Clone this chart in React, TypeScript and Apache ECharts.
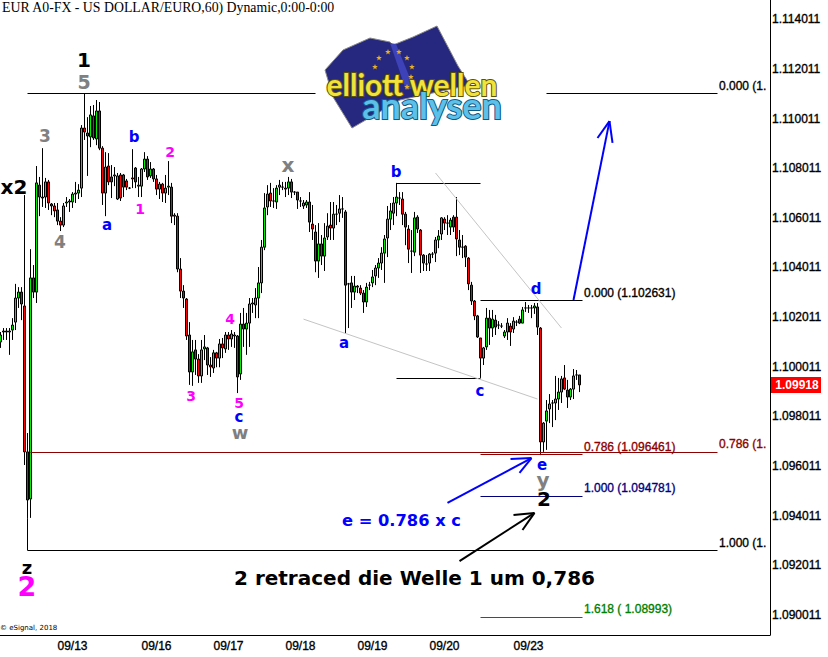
import React, { useEffect, useRef } from "react";
import * as echarts from "echarts";

// rows: [open, close, low, high]
const sep12 = [
  [1.10101,1.10129,1.10077,1.10141],[1.10145,1.10141,1.10109,1.10157],[1.10145,1.10141,1.10109,1.10157],[1.10141,1.10145,1.10049,1.10157],
  [1.10149,1.10169,1.10109,1.10197],[1.10181,1.10278,1.10149,1.10335],[1.10278,1.10302,1.10238,1.10322],[1.10302,1.10254,1.10189,1.10322],
  [1.10246,1.09658,1.09605,1.10693],[1.09658,1.09464,1.09388,1.09734],[1.09468,1.10359,1.09392,1.10475],[1.10359,1.10302,1.10278,1.10411],
  [1.10302,1.10742,1.10258,1.10810],[1.10733,1.10685,1.10608,1.10766],[1.10685,1.10681,1.10645,1.10882],[1.10685,1.10746,1.10641,1.10762],
  [1.10746,1.10661,1.10633,1.10754],[1.10657,1.10649,1.10612,1.10661],[1.10649,1.10629,1.10604,1.10661],[1.10633,1.10588,1.10572,1.10661],
  [1.10588,1.10572,1.10548,1.10604],[1.10572,1.10649,1.10564,1.10661],[1.10661,1.10665,1.10645,1.10685],[1.10665,1.10669,1.10625,1.10677],
];
const sep13 = [
  [1.10665,1.10697,1.10641,1.10705],[1.10697,1.10701,1.10661,1.10746],[1.10701,1.10713,1.10677,1.10737],[1.10721,1.10963,1.10685,1.10975],
  [1.10963,1.10947,1.10915,1.11104],[1.10943,1.10931,1.10770,1.11007],[1.10927,1.11016,1.10886,1.11052],[1.11012,1.10923,1.10915,1.11056],
  [1.10919,1.11032,1.10894,1.11076],[1.11032,1.10882,1.10874,1.11068],[1.10882,1.10701,1.10653,1.10890],[1.10701,1.10806,1.10608,1.10866],
  [1.10810,1.10746,1.10733,1.10862],[1.10766,1.10746,1.10681,1.10814],[1.10770,1.10774,1.10729,1.10806],[1.10677,1.10770,1.10673,1.10782],
  [1.10774,1.10681,1.10669,1.10782],[1.10774,1.10725,1.10685,1.10778],[1.10750,1.10725,1.10713,1.10758],[1.10721,1.10721,1.10717,1.10725],
  [1.10762,1.10758,1.10721,1.10878],[1.10802,1.10746,1.10721,1.10806],[1.10729,1.10733,1.10685,1.10766],[1.10729,1.10798,1.10685,1.10802],
  [1.10798,1.10838,1.10786,1.10866],[1.10838,1.10766,1.10754,1.10850],[1.10770,1.10798,1.10762,1.10826],[1.10798,1.10758,1.10746,1.10802],
];
const sep16 = [
  [1.10758,1.10717,1.10693,1.10774],[1.10717,1.10737,1.10677,1.10746],[1.10737,1.10701,1.10665,1.10742],[1.10701,1.10721,1.10661,1.10774],
  [1.10725,1.10729,1.10693,1.10830],[1.10725,1.10608,1.10580,1.10742],[1.10608,1.10612,1.10572,1.10620],[1.10608,1.10395,1.10382,1.10620],
  [1.10395,1.10306,1.10278,1.10439],[1.10306,1.10278,1.10238,1.10330],[1.10274,1.10125,1.10109,1.10278],[1.10129,1.09980,1.09928,1.10181],
  [1.09980,1.10061,1.09924,1.10109],[1.10069,1.10032,1.09968,1.10109],[1.10032,1.09964,1.09936,1.10052],[1.09964,1.10069,1.09936,1.10109],
  [1.10073,1.10081,1.10028,1.10129],[1.10077,1.10008,1.09968,1.10081],[1.10008,1.10000,1.09960,1.10040],[1.09996,1.10057,1.09976,1.10069],
  [1.10057,1.10036,1.09999,1.10061],[1.10036,1.10093,1.09999,1.10113],[1.10093,1.10077,1.10036,1.10117],[1.10073,1.10129,1.10057,1.10141],
];
const sep17 = [
  [1.10129,1.10113,1.10069,1.10141],[1.10113,1.10133,1.10081,1.10149],[1.10125,1.10129,1.10077,1.10141],[1.10125,1.09960,1.09895,1.10129],
  [1.09972,1.10173,1.09948,1.10218],[1.10173,1.10153,1.10081,1.10238],[1.10153,1.10177,1.10049,1.10218],[1.10177,1.10254,1.10081,1.10278],
  [1.10254,1.10258,1.10218,1.10278],[1.10250,1.10278,1.10197,1.10318],[1.10278,1.10339,1.10197,1.10403],[1.10339,1.10483,1.10298,1.10512],
  [1.10483,1.10641,1.10471,1.10701],[1.10645,1.10697,1.10612,1.10733],[1.10701,1.10669,1.10645,1.10742],[1.10669,1.10669,1.10641,1.10721],
  [1.10665,1.10721,1.10637,1.10733],[1.10725,1.10733,1.10693,1.10754],[1.10725,1.10725,1.10713,1.10746],[1.10721,1.10717,1.10685,1.10746],
  [1.10721,1.10746,1.10693,1.10766],[1.10746,1.10705,1.10681,1.10758],[1.10705,1.10705,1.10693,1.10709],[1.10705,1.10673,1.10637,1.10705],
];
const sep18 = [
  [1.10669,1.10669,1.10645,1.10685],[1.10649,1.10661,1.10637,1.10673],[1.10653,1.10665,1.10641,1.10673],[1.10665,1.10584,1.10544,1.10705],
  [1.10576,1.10556,1.10512,1.10653],[1.10544,1.10427,1.10382,1.10572],[1.10427,1.10496,1.10359,1.10580],[1.10496,1.10447,1.10411,1.10532],
  [1.10447,1.10520,1.10387,1.10580],[1.10524,1.10568,1.10512,1.10620],[1.10572,1.10560,1.10512,1.10665],[1.10560,1.10616,1.10512,1.10665],
  [1.10616,1.10616,1.10572,1.10653],[1.10620,1.10637,1.10584,1.10693],[1.10637,1.10637,1.10601,1.10685],[1.10625,1.10330,1.10133,1.10633],
  [1.10335,1.10335,1.10157,1.10339],[1.10339,1.10302,1.10238,1.10367],[1.10302,1.10326,1.10270,1.10367],[1.10326,1.10322,1.10298,1.10330],
  [1.10318,1.10298,1.10290,1.10330],[1.10298,1.10262,1.10218,1.10310],[1.10262,1.10322,1.10242,1.10339],[1.10330,1.10330,1.10310,1.10343],
];
const sep19 = [
  [1.10339,1.10363,1.10322,1.10391],[1.10367,1.10399,1.10330,1.10411],[1.10399,1.10419,1.10359,1.10439],[1.10419,1.10459,1.10391,1.10483],
  [1.10459,1.10516,1.10339,1.10532],[1.10520,1.10596,1.10443,1.10649],[1.10596,1.10629,1.10552,1.10661],[1.10620,1.10661,1.10572,1.10685],
  [1.10661,1.10685,1.10608,1.10742],[1.10681,1.10681,1.10653,1.10705],[1.10677,1.10616,1.10572,1.10705],[1.10616,1.10564,1.10491,1.10625],
  [1.10556,1.10475,1.10419,1.10572],[1.10467,1.10467,1.10379,1.10552],[1.10463,1.10601,1.10447,1.10625],[1.10604,1.10556,1.10540,1.10612],
  [1.10552,1.10451,1.10379,1.10556],[1.10451,1.10419,1.10387,1.10455],[1.10415,1.10415,1.10387,1.10451],[1.10419,1.10455,1.10387,1.10459],
  [1.10455,1.10455,1.10439,1.10463],[1.10459,1.10512,1.10423,1.10524],[1.10512,1.10528,1.10479,1.10552],[1.10536,1.10601,1.10512,1.10604],
];
const sep20 = [
  [1.10596,1.10580,1.10552,1.10604],[1.10580,1.10580,1.10532,1.10612],[1.10564,1.10592,1.10532,1.10601],[1.10604,1.10564,1.10544,1.10612],
  [1.10604,1.10516,1.10447,1.10685],[1.10512,1.10483,1.10451,1.10552],[1.10483,1.10483,1.10439,1.10532],[1.10487,1.10443,1.10403,1.10491],
  [1.10439,1.10335,1.10310,1.10443],[1.10330,1.10266,1.10250,1.10343],[1.10266,1.10206,1.10189,1.10270],[1.10206,1.10121,1.10117,1.10210],
  [1.10117,1.10036,1.09956,1.10117],[1.10036,1.10077,1.10008,1.10081],[1.10081,1.10197,1.10069,1.10238],[1.10197,1.10157,1.10089,1.10230],
  [1.10157,1.10193,1.10121,1.10230],[1.10189,1.10161,1.10129,1.10210],[1.10169,1.10169,1.10153,1.10185],[1.10165,1.10165,1.10157,1.10177],
  [1.10125,1.10141,1.10117,1.10149],[1.10141,1.10177,1.10109,1.10197],[1.10165,1.10141,1.10085,1.10177],[1.10153,1.10185,1.10137,1.10201],
  [1.10181,1.10181,1.10165,1.10189],[1.10193,1.10177,1.10173,1.10206],[1.10177,1.10230,1.10177,1.10242],[1.10238,1.10238,1.10222,1.10262],
];
const sep23 = [
  [1.10238,1.10238,1.10218,1.10250],[1.10238,1.10238,1.10197,1.10250],[1.10238,1.10246,1.10214,1.10258],[1.10242,1.10161,1.10129,1.10258],
  [1.10157,1.09698,1.09645,1.10161],[1.09698,1.09774,1.09658,1.09778],[1.09782,1.09823,1.09666,1.09867],[1.09831,1.09851,1.09774,1.09891],
  [1.09855,1.09855,1.09758,1.09867],[1.09855,1.09871,1.09786,1.09964],[1.09871,1.09899,1.09827,1.09956],[1.09899,1.09952,1.09855,1.09964],
  [1.09956,1.09911,1.09907,1.10008],[1.09907,1.09879,1.09835,1.09948],[1.09879,1.09911,1.09867,1.09915],[1.09911,1.09964,1.09871,1.09992],
  [1.09968,1.09968,1.09948,1.09988],[1.09968,1.09928,1.09899,1.09968],
];

const candles = [...sep12, ...sep13, ...sep16, ...sep17, ...sep18, ...sep19, ...sep20, ...sep23];

const dateBars = [24, 52, 76, 100, 124, 148, 176];
const dateLabels = ["09/13", "09/16", "09/17", "09/18", "09/19", "09/20", "09/23"];
const yTicks = [1.114011, 1.112011, 1.110011, 1.108011, 1.106011, 1.104011, 1.102011, 1.100011, 1.098011, 1.096011, 1.094011, 1.092011, 1.090011];
const slotCount = 257;

const BLACK = "#000000";
const BLUE = "#0000ff";
const GREY = "#c4c4c4";
const DARKRED = "#8b0000";
const NAVY = "#00007f";
const GREEN = "#007f00";

// [bar, price, bar, price, colour, width]
const segments: [number, number, number, number, string, number][] = [
  [9, 1.11104, 105, 1.11104, BLACK, 1],
  [182, 1.11104, 239, 1.11104, BLACK, 1],
  [10, 1.09656, 239, 1.09656, DARKRED, 1],
  [160, 1.0965, 194, 1.0965, DARKRED, 1],
  [160, 1.1027, 194, 1.1027, BLACK, 1],
  [160, 1.0948, 194, 1.0948, NAVY, 1],
  [9, 1.09261, 239, 1.09261, BLACK, 1],
  [160, 1.08993, 194, 1.08993, GREEN, 1],
  [132, 1.10742, 160, 1.10742, BLACK, 1],
  [132, 1.09956, 160, 1.09956, BLACK, 1],
  [9, 1.09388, 9, 1.09261, BLACK, 1],
  [101, 1.10193, 179, 1.09871, GREY, 1],
  [145, 1.10782, 187, 1.10157, GREY, 1],
  // arrow to the upside
  [191, 1.1027, 203, 1.10991, BLUE, 2],
  [199, 1.10923, 203, 1.10991, BLUE, 2],
  [204, 1.10903, 203, 1.10991, BLUE, 2],
  // arrow to e
  [149, 1.09452, 177, 1.09633, BLUE, 2],
  [170, 1.09629, 177, 1.09633, BLUE, 2],
  [173, 1.09573, 177, 1.09633, BLUE, 2],
  // arrow to 2
  [153, 1.09218, 178, 1.09412, BLACK, 2],
  [171, 1.09404, 178, 1.09412, BLACK, 2],
  [174, 1.09343, 178, 1.09412, BLACK, 2],
];

const GREYTXT = "#808080";
const MAG = "#ff00ff";
// [text, x, y, size, colour]
const waveLabels: [string, number, number, number, string][] = [
  ["1", 84, 60, 20, BLACK], ["5", 84, 82, 19, GREYTXT], ["3", 45, 136, 17, GREYTXT], ["4", 60, 242, 17, GREYTXT],
  ["x2", 14, 187, 20, BLACK], ["a", 107, 225, 15, BLUE], ["b", 134, 137, 15, BLUE], ["1", 140, 209, 14, MAG],
  ["2", 170, 152, 14, MAG], ["3", 191, 396, 14, MAG], ["4", 230, 319, 14, MAG], ["5", 239, 403, 14, MAG],
  ["c", 239, 417, 15, BLUE], ["w", 240, 432, 18, GREYTXT], ["x", 288, 165, 20, GREYTXT], ["a", 344, 343, 15, BLUE],
  ["b", 396, 172, 15, BLUE], ["c", 480, 391, 15, BLUE], ["d", 536, 289, 15, BLUE], ["e", 542, 465, 15, BLUE],
  ["y", 543, 480, 20, GREYTXT], ["2", 544, 499, 20, BLACK], ["z", 27, 567, 18, BLACK], ["2", 27, 586, 27, MAG],
];

// [text, x, y, colour]
const levelLabels: [string, number, number, string][] = [
  ["0.000 (1.", 719, 86, BLACK],
  ["0.000 (1.102631)", 584, 293, BLACK],
  ["0.786 (1.096461)", 584, 447, DARKRED],
  ["0.786 (1.", 719, 444, DARKRED],
  ["1.000 (1.094781)", 584, 488, NAVY],
  ["1.000 (1.", 719, 543, BLACK],
  ["1.618 ( 1.08993)", 584, 609, GREEN],
];

const stars = [[379, 58], [388, 52], [399, 52], [407, 58], [412, 67], [411, 77], [407, 87], [375, 67]];

function starPoints(cx: number, cy: number, r: number) {
  const pts: number[][] = [];
  for (let k = 0; k < 10; k++) {
    const rad = k % 2 === 0 ? r : r * 0.42;
    const a = -Math.PI / 2 + (k * Math.PI) / 5;
    pts.push([cx + rad * Math.cos(a), cy + rad * Math.sin(a)]);
  }
  return pts;
}

function txt(text: string, x: number, y: number, font: string, fill: string, align = "left", extra: any = {}) {
  return {
    type: "text", x, y, silent: true, z: 50,
    style: { text, font, fill, align, verticalAlign: "middle", textAlign: align, textVerticalAlign: "middle", ...extra },
  };
}

export default function App() {
  const ref = useRef<HTMLDivElement>(null);
  useEffect(() => {
    const chart = echarts.init(ref.current!, undefined, { renderer: "svg" });
    const categories = Array.from({ length: slotCount }, (_, i) => {
      const k = dateBars.indexOf(i);
      return k >= 0 ? dateLabels[k] : String(i);
    });
    const graphics: any[] = [
      // logo
      { type: "polygon", z: 40, silent: true, shape: { points: [[325, 70], [343, 50], [370, 38], [390, 42], [393, 45], [413, 37], [437, 26], [458, 66], [470, 85], [400, 100], [352, 128], [333, 97]] }, style: { fill: "#26287f", stroke: "#8a8a8a", lineWidth: 1 } },
      { type: "polygon", z: 41, silent: true, shape: { points: [[390, 43], [396, 44], [414, 88], [406, 90]] }, style: { fill: "#3d42b8" } },
      ...stars.map(([x, y]) => ({ type: "polygon", z: 42, silent: true, shape: { points: starPoints(x, y, 3) }, style: { fill: "#e8b020" } })),
      txt("elliott wellen", 412, 84, "bold 30px Lato", "#f2e23c", "center", { stroke: "#5c5200", lineWidth: 2 }),
      txt("analysen", 432, 105, "bold 36px Lato", "#5cc0e8", "center", { stroke: "#0f5a85", lineWidth: 2 }),
      // header
      txt("EUR A0-FX - US DOLLAR/EURO,60) Dynamic,0:00-0:00", 2, 7, "13.8px 'Liberation Serif'", BLACK),
      txt("© eSignal, 2018", 0, 628, "7px 'DejaVu Sans'", BLACK),
      // wave labels
      ...waveLabels.map(([t, x, y, s, c]) => txt(t, x, y, `bold ${s}px 'DejaVu Sans'`, c, "center")),
      ...levelLabels.map(([t, x, y, c]) => txt(t, x, y, "12px 'Liberation Sans'", c, "left", { stroke: c, lineWidth: 0.35 })),
      txt("e = 0.786 x c", 342, 520, "bold 16.3px 'DejaVu Sans'", BLUE),
      txt("2 retraced die Welle 1 um 0,786", 234, 578, "bold 20px 'DejaVu Sans'", BLACK),
      // last price tag
      { type: "rect", z: 50, silent: true, shape: { x: 771, y: 377, width: 50, height: 16 }, style: { fill: "#ff0000" } },
      txt("1.09918", 797, 385, "bold 12px 'Liberation Sans'", "#ffffff", "center"),
    ];
    chart.setOption({
      animation: false,
      backgroundColor: "#ffffff",
      grid: { left: -1, top: 0, width: 771, height: 635, containLabel: false, outerBoundsMode: "none" },
      xAxis: {
        type: "category",
        data: categories,
        boundaryGap: true,
        axisLine: { lineStyle: { color: BLACK, width: 1 } },
        axisTick: { show: false },
        splitLine: { show: false },
        axisLabel: {
          interval: (i: number) => dateBars.includes(i),
          color: BLACK,
          fontFamily: "Liberation Sans",
          fontSize: 12,
          margin: 5,
          textBorderColor: BLACK,
          textBorderWidth: 0.35,
        },
      },
      yAxis: {
        type: "value",
        position: "right",
        min: 1.0892,
        max: 1.114791,
        axisLine: { show: true, lineStyle: { color: BLACK, width: 1 } },
        axisTick: { show: false },
        splitLine: { show: false },
        axisLabel: {
          customValues: yTicks,
          formatter: (v: number) => v.toFixed(6),
          color: BLACK,
          fontFamily: "Liberation Sans",
          fontSize: 12,
          margin: 2,
          textBorderColor: BLACK,
          textBorderWidth: 0.35,
        },
      },
      series: [
        {
          type: "candlestick",
          data: candles,
          barWidth: 2,
          itemStyle: {
            color: "#00f000",
            color0: "#ff0000",
            borderColor: BLACK,
            borderColor0: BLACK,
            borderColorDoji: BLACK,
            borderWidth: 1,
          },
          markLine: {
            silent: true,
            symbol: ["none", "none"],
            animation: false,
            label: { show: false },
            emphasis: { disabled: true },
            data: segments.map(([a, p, b, q, color, width]) => [
              { coord: [a, p], lineStyle: { color, width, type: "solid" } },
              { coord: [b, q] },
            ]),
          },
        },
      ],
      graphic: graphics,
    });
    return () => chart.dispose();
  }, []);
  return <div ref={ref} style={{ position: "absolute", left: 0, top: 0, width: 828, height: 657 }} />;
}
